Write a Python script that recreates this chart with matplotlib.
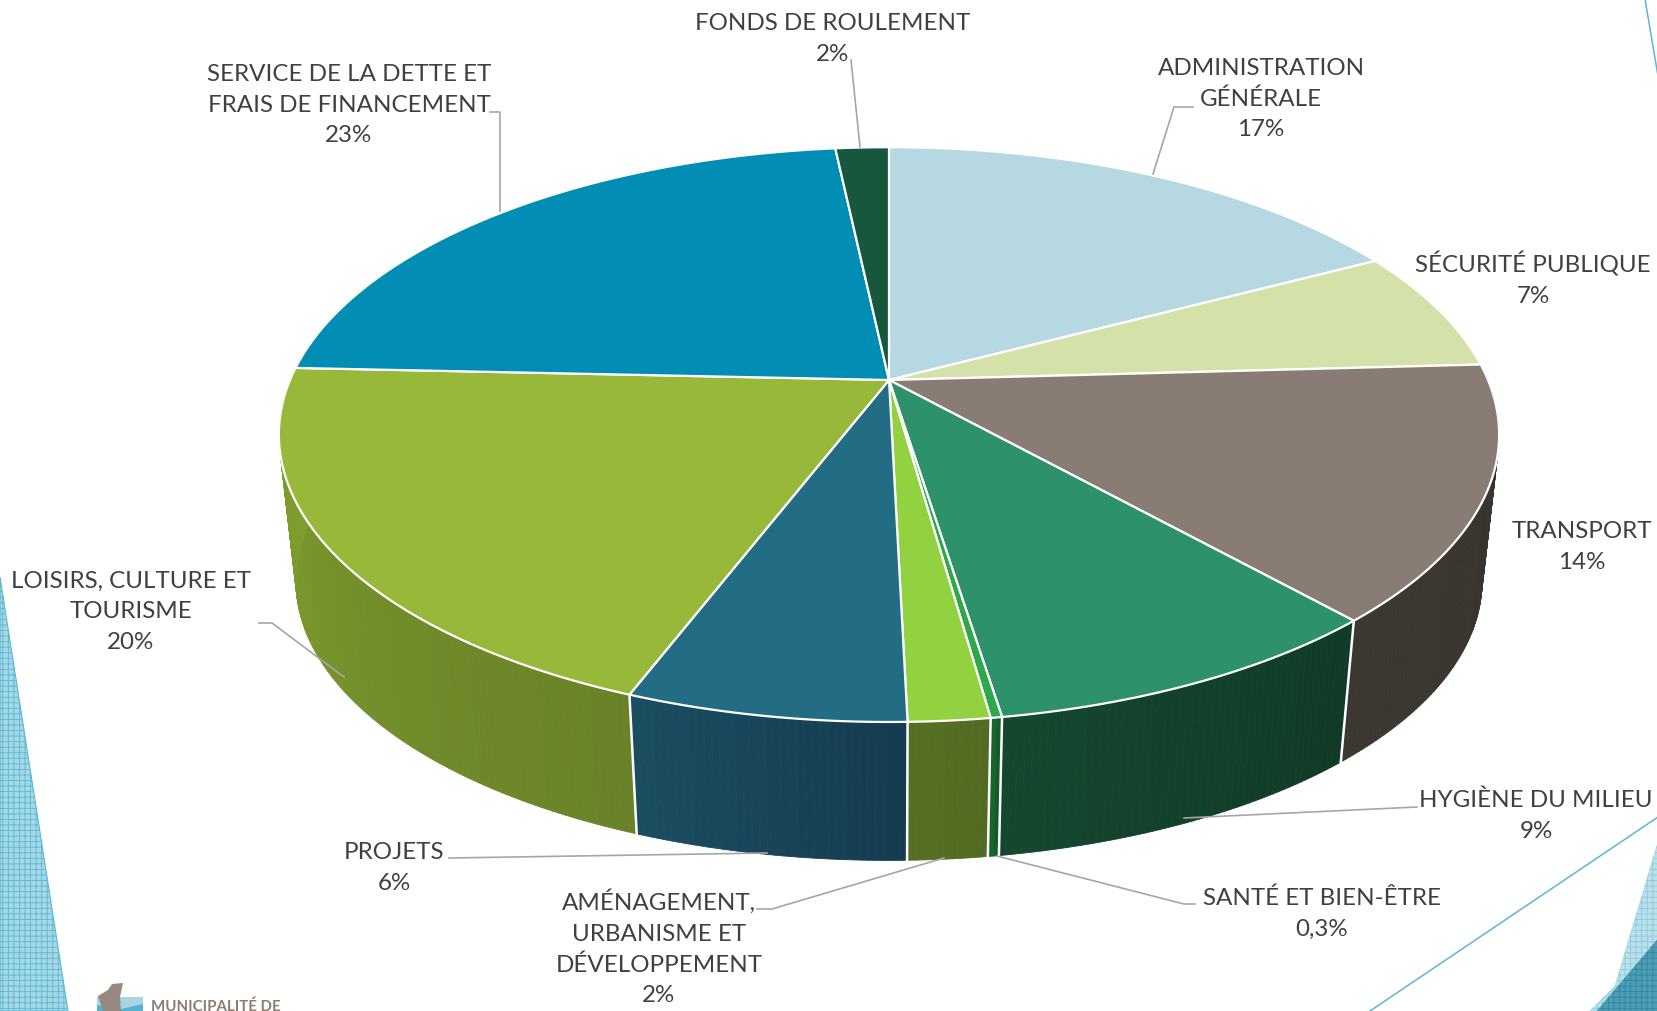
"""
Perspective 3D pie of budget shares, drawn in pixel coordinates.
"""
import numpy as np
import matplotlib
matplotlib.use("Agg")
import matplotlib.pyplot as plt
from matplotlib.collections import PolyCollection
from matplotlib.colors import to_rgb
from matplotlib.patches import Polygon

# slice shares as measured on the picture, clockwise from the top
categories = [
    "ADMINISTRATION\nGÉNÉRALE", "SÉCURITÉ PUBLIQUE", "TRANSPORT",
    "HYGIÈNE DU MILIEU", "SANTÉ ET BIEN-ÊTRE",
    "AMÉNAGEMENT,\nURBANISME ET\nDÉVELOPPEMENT", "PROJETS",
    "LOISIRS, CULTURE ET\nTOURISME",
    "SERVICE DE LA DETTE ET\nFRAIS DE FINANCEMENT", "FONDS DE ROULEMENT",
]
shares = [17.25, 6.85, 14.3, 9.15, 0.25, 1.8, 6.2, 19.9, 22.6, 1.7]
pct_labels = ["17%", "7%", "14%", "9%", "0,3%", "2%", "6%", "20%", "23%", "2%"]

top_colors = ["#B5D8E2", "#D4E2AA", "#887C74", "#2D9169", "#2FA84A",
              "#92D13F", "#236D84", "#97B839", "#028DB5", "#17573E"]
wall_left = ["#8AA5AD", "#A2AD82", "#3C3731", "#15472F", "#17652D",
             "#567023", "#1B4D61", "#80A02E", "#026C8A", "#11422F"]
wall_right = ["#8AA5AD", "#A2AD82", "#37322C", "#103B27", "#155A29",
              "#526A22", "#153C50", "#698228", "#026C8A", "#11422F"]

label_xy = [(1261, 99), (1533, 279), (1582, 547), (1536, 816), (1322, 914),
            (659, 948), (394, 868), (131, 612), (349, 105), (833, 39)]

# leader lines, pixel polylines from label to slice
leaders = [
    [(1193, 108), (1174, 108), (1153, 175)],
    [(1417, 808), (1184, 819)],
    [(1195, 905), (1184, 905), (997, 857)],
    [(757, 910), (772, 910), (944, 859)],
    [(449, 859), (767, 854)],
    [(259, 624), (272, 624), (344, 678)],
    [(490, 113), (500, 113), (500, 212)],
    [(851, 61), (860, 148)],
]

# pie projection (a circle seen in perspective)
CX, CY = 889, 381
A, B, K = 599, 277, 0.19
DEPTH, SHRINK = 148, 0.972


def project(theta, r=1.0):
    """theta clockwise from the top, radians -> top-face pixels."""
    x = r * np.sin(theta)
    y = -r * np.cos(theta)
    w = 1 - K * y
    return CX + A * x / w, CY + B * y / w


def project_low(theta):
    x, y = project(theta)
    return CX + SHRINK * (x - CX), CY + DEPTH + SHRINK * (y - CY)


def main():
    fig = plt.figure(figsize=(16.58, 10.12), dpi=100)
    ax = fig.add_axes([0, 0, 1, 1])
    ax.set_xlim(0, 1658)
    ax.set_ylim(1012, 0)
    ax.axis("off")

    # ── Slide decoration ─────────────────────────────────────────────────
    plt.rcParams["hatch.linewidth"] = 0.6
    ax.add_patch(Polygon([(0, 578), (68, 1012), (0, 1012)], fc="#A5D8E6",
                         ec="#5DB6D3", hatch="+++", lw=0.8, zorder=1))
    ax.add_patch(Polygon([(1658, 843), (1615, 987), (1590, 1012), (1658, 1012)],
                         fc="#BBE0EA", ec="#8ACBDD", hatch="+++", lw=0.3, zorder=1))
    ax.add_patch(Polygon([(1658, 940), (1597, 1012), (1658, 1012)],
                         fc="#4E9DB4", ec="#2F87A1", hatch="+++", lw=0.3, zorder=1))
    ax.plot([1658, 1370], [818, 1012], color="#5DB6D3", lw=1.1, zorder=1)
    ax.plot([1645, 1658], [0, 77], color="#5DB6D3", lw=1.1, zorder=1)

    # logo
    ax.add_patch(Polygon([(97, 998), (143, 998), (143, 1012), (97, 1012)],
                         fc="#A9D5E2", ec="none", zorder=1))
    ax.add_patch(Polygon([(97, 1006), (121, 1010), (143, 1005), (143, 1012), (97, 1012)],
                         fc="#55B3CF", ec="none", zorder=1))
    ax.add_patch(Polygon([(98, 997), (108, 991), (112, 985), (123, 984), (120, 998),
                          (121, 1012), (103, 1012)], fc="#95887E", ec="none", zorder=2))
    ax.text(151, 1011, "MUNICIPALITÉ DE", fontsize=10.8, family="Lato", weight="bold",
            color="#8A7D73", ha="left", va="baseline", zorder=2)

    # ── Pie ──────────────────────────────────────────────────────────────
    edges = np.concatenate([[0], np.cumsum(shares)]) / np.sum(shares) * 2 * np.pi

    # side wall, built from thin quads so each slice can shade left to right
    polys, cols = [], []
    for i in range(len(shares)):
        ts = np.linspace(edges[i], edges[i + 1], max(int(shares[i] * 6), 3))
        c_r, c_l = np.array(to_rgb(wall_right[i])), np.array(to_rgb(wall_left[i]))
        for j in range(len(ts) - 1):
            x0, y0 = project(ts[j])
            x1, y1 = project(ts[j + 1])
            x2, y2 = project_low(ts[j + 1])
            x3, y3 = project_low(ts[j])
            polys.append([(x0, y0), (x1, y1), (x2, y2), (x3, y3)])
            f = j / max(len(ts) - 2, 1)
            cols.append(c_r * (1 - f) + c_l * f)
    ax.add_collection(PolyCollection(polys, facecolors=cols, edgecolors=cols,
                                     linewidths=0.6, zorder=3))

    # wall seams on the front half only
    for t in edges[:-1]:
        if np.cos(t) < -0.05:
            xa, ya = project(t)
            xb, yb = project_low(t)
            ax.plot([xa, xb], [ya, yb], color="white", lw=1.8, zorder=4)

    # top face
    for i in range(len(shares)):
        ts = np.linspace(edges[i], edges[i + 1], max(int(shares[i] * 6), 3))
        xs, ys = project(ts)
        pts = [(CX, CY)] + list(zip(xs, ys))
        ax.add_patch(Polygon(pts, closed=True, fc=top_colors[i], ec="white",
                             lw=1.6, joinstyle="round", zorder=5))

    # ── Labels and leaders ───────────────────────────────────────────────
    for line in leaders:
        xs, ys = zip(*line)
        ax.plot(xs, ys, color="#A6A6A6", lw=1.2, zorder=6)

    for name, pct, (x, y) in zip(categories, pct_labels, label_xy):
        ax.text(x, y, f"{name}\n{pct}", ha="center", va="center", fontsize=17.4,
                family="Lato", color="#404040", linespacing=1.56, zorder=7)

    fig.savefig("out.png", dpi=100, facecolor="white")
    plt.close(fig)


if __name__ == "__main__":
    main()
